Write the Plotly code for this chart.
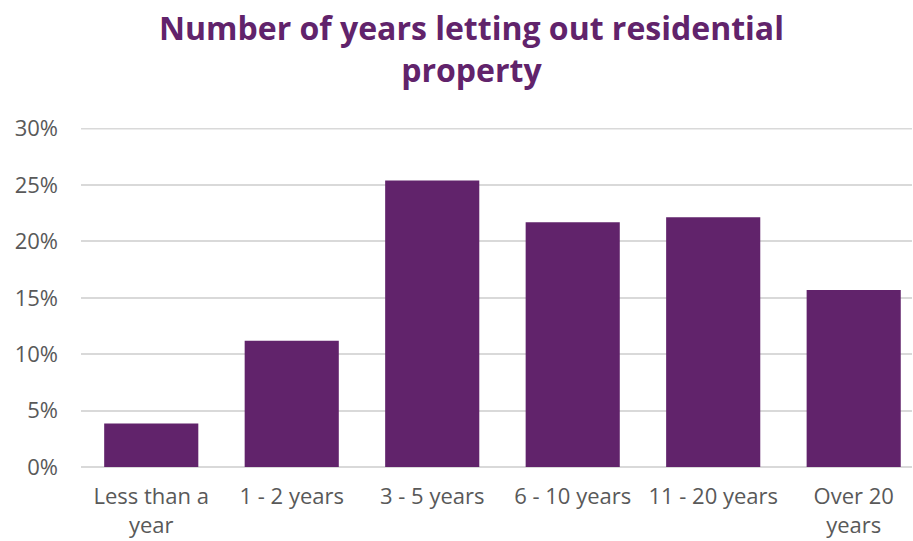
import plotly.graph_objects as go

# Survey results: length of time landlords have let residential property
categories = ["Less than a<br>year", "1 - 2 years", "3 - 5 years",
              "6 - 10 years", "11 - 20 years", "Over 20<br>years"]
shares = [3.85, 11.2, 25.4, 21.7, 22.15, 15.7]  # percent of respondents
y_ticks = [0, 5, 10, 15, 20, 25, 30]
y_tick_labels = [f"{v}%" for v in y_ticks]
title_text = "Number of years letting out residential<br>property"

purple = "#61236B"
grey_text = "#595959"
grid = "#D9D9D9"

fig = go.Figure(
    go.Bar(
        x=categories,
        y=shares,
        marker=dict(color=purple, line=dict(width=0)),
        hoverinfo="skip",
    )
)

fig.update_layout(
    width=913,
    height=541,
    margin=dict(l=81, r=1, t=128, b=74),
    paper_bgcolor="white",
    plot_bgcolor="white",
    bargap=0.33,
    showlegend=False,
    font=dict(family="Open Sans, Noto Sans", color=grey_text, size=22),
)

# Two-line bold title centred above the plot area
fig.add_annotation(
    text=title_text,
    xref="paper", yref="paper",
    x=0.47, y=1.365,
    xanchor="center", yanchor="top",
    showarrow=False,
    align="center",
    font=dict(family="Open Sans, Noto Sans", size=32, color=purple,
              weight="bold"),
)

fig.update_yaxes(
    range=[0, 30.06],
    tickvals=y_ticks,
    ticktext=y_tick_labels,
    showgrid=True,
    gridcolor=grid,
    gridwidth=1.5,
    zeroline=True,
    zerolinecolor=grid,
    zerolinewidth=1.5,
    showline=False,
    ticks="",
    ticklabelstandoff=22,
    tickfont=dict(size=22, color=grey_text),
)
fig.update_xaxes(
    range=[-0.5, 5.415],  # plot area runs slightly past the right edge
    showgrid=False,
    showline=False,
    ticks="",
    tickfont=dict(size=22, color=grey_text),
    ticklabelstandoff=14,
)

# Top gridline at the axis maximum, which plotly omits at the plot edge
fig.add_hline(y=y_ticks[-1], line=dict(color=grid, width=1.5), layer="below")

fig.write_html("out.html")
